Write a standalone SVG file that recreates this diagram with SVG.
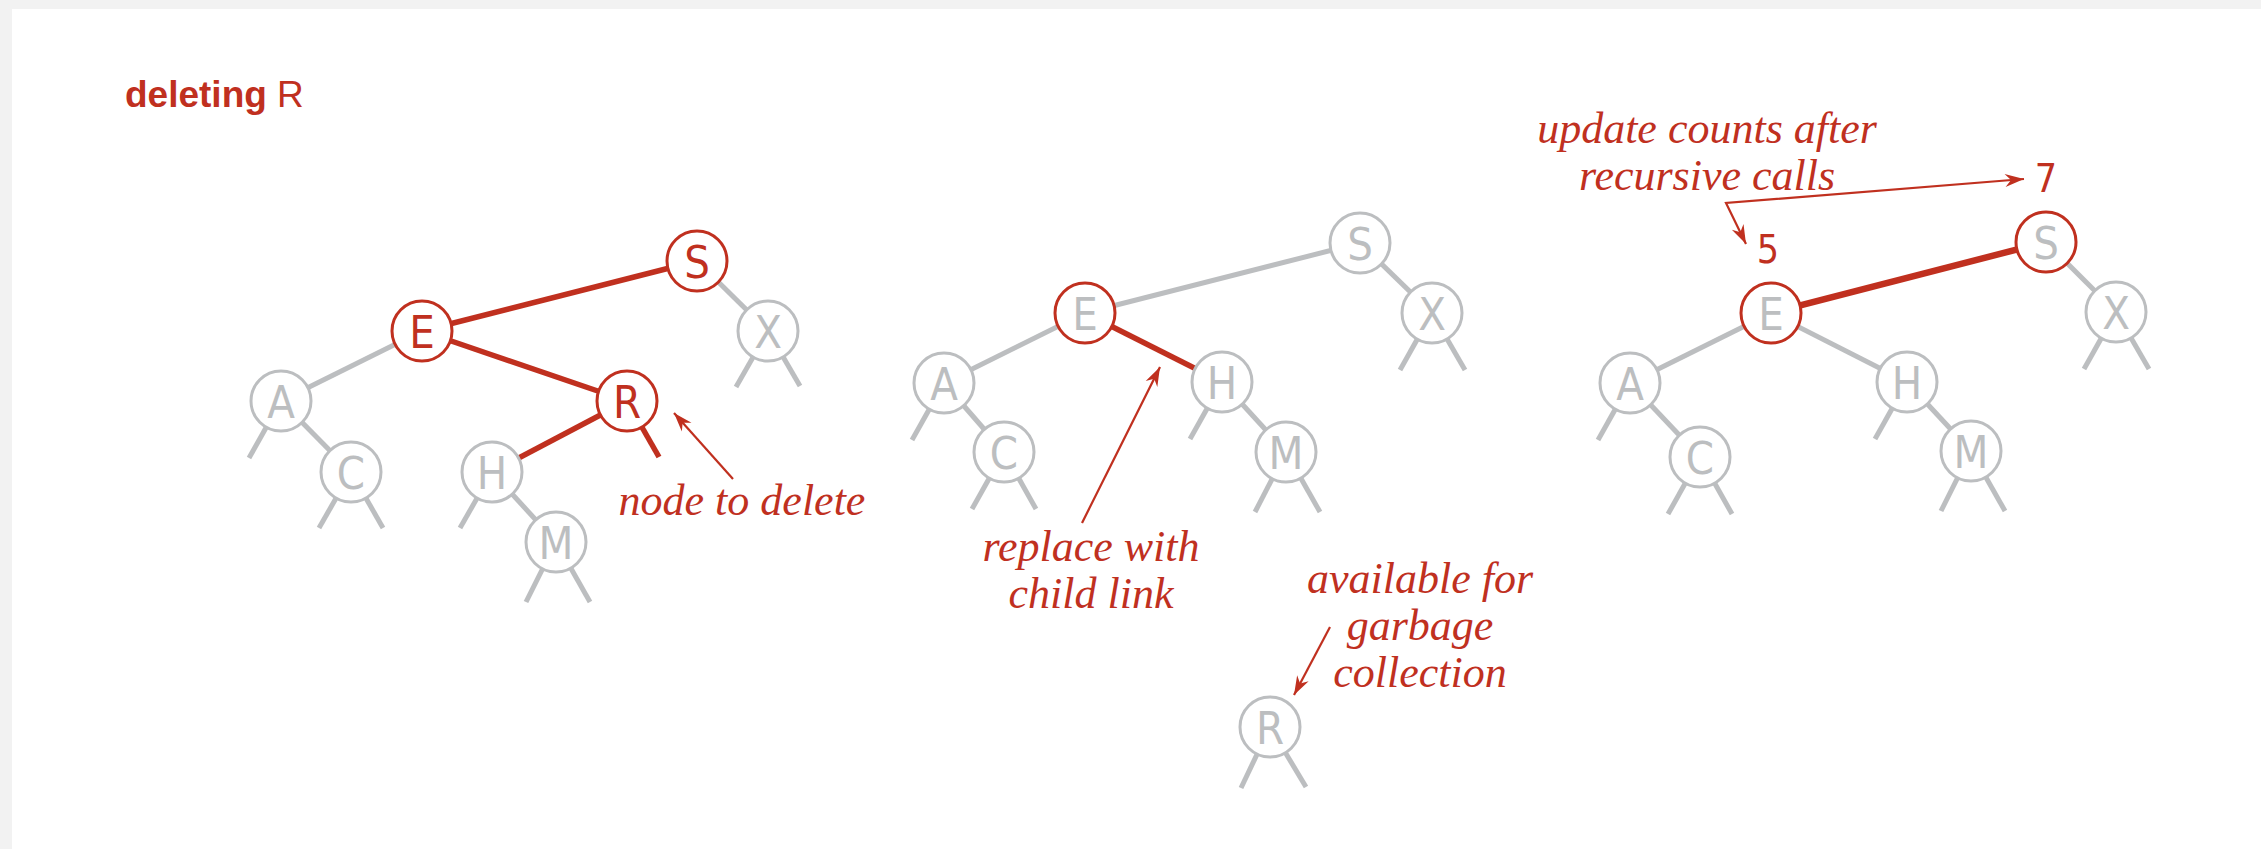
<svg xmlns="http://www.w3.org/2000/svg" width="2261" height="849" viewBox="0 0 2261 849">
<style>
.bg{fill:#f2f2f2}
.panel{fill:#ffffff}
.lk{stroke:#bcbec0;stroke-width:5;fill:none;stroke-linecap:butt}
.lr{stroke:#c0301f;stroke-width:5.5;fill:none}
.lr3{stroke:#c0301f;stroke-width:6.5;fill:none}
.cg{fill:#ffffff;stroke:#bcbec0;stroke-width:3}
.cr{fill:#ffffff;stroke:#c0301f;stroke-width:3}
.tg{fill:#bcbec0;font-family:"DejaVu Sans Condensed","Liberation Sans Narrow","Liberation Sans",sans-serif;font-size:45px;text-anchor:middle}
.tr{fill:#c0301f;font-family:"DejaVu Sans Condensed","Liberation Sans Narrow","Liberation Sans",sans-serif;font-size:45px;text-anchor:middle}
.num{fill:#c0301f;font-family:"DejaVu Sans Condensed","Liberation Sans Narrow","Liberation Sans",sans-serif;font-size:39px;text-anchor:middle}
.note{fill:#c0301f;font-family:"Liberation Serif",serif;font-style:italic;font-size:44px;text-anchor:middle}
.title{fill:#c0301f;font-family:"Liberation Sans",sans-serif;font-size:37px}
.arr{stroke:#c0301f;stroke-width:2.2;fill:none}
</style>
<defs>
<marker id="ah" markerUnits="userSpaceOnUse" viewBox="-20 -8 22 16" refX="0" refY="0" markerWidth="22" markerHeight="16" orient="auto-start-reverse">
<path d="M0,0 L-19,-6.5 L-13,0 L-19,6.5 Z" fill="#c0301f"/>
</marker>
</defs>
<rect class="bg" x="0" y="0" width="2261" height="849"/>
<rect class="panel" x="12" y="9" width="2249" height="840"/>
<text class="title" x="125" y="107"><tspan font-weight="bold">deleting</tspan> R</text>

<g id="connectors">
<!-- tree 1 -->
<line class="lr" x1="697" y1="261" x2="422" y2="331"/>
<line class="lk" x1="697" y1="261" x2="768" y2="331"/>
<line class="lk" x1="422" y1="331" x2="281" y2="401"/>
<line class="lr" x1="422" y1="331" x2="627" y2="401"/>
<line class="lk" x1="281" y1="401" x2="351" y2="472"/>
<line class="lr" x1="627" y1="401" x2="492" y2="472"/>
<line class="lk" x1="492" y1="472" x2="556" y2="542"/>
<line class="lk" x1="281" y1="401" x2="249" y2="458"/>
<line class="lk" x1="351" y1="472" x2="319" y2="528"/>
<line class="lk" x1="351" y1="472" x2="383" y2="528"/>
<line class="lk" x1="492" y1="472" x2="460" y2="528"/>
<line class="lk" x1="556" y1="542" x2="526" y2="602"/>
<line class="lk" x1="556" y1="542" x2="590" y2="602"/>
<line class="lr" x1="627" y1="401" x2="659" y2="457"/>
<line class="lk" x1="768" y1="331" x2="736" y2="387"/>
<line class="lk" x1="768" y1="331" x2="800" y2="386"/>
<!-- tree 2 -->
<line class="lk" x1="1360" y1="243" x2="1085" y2="313"/>
<line class="lk" x1="1360" y1="243" x2="1432" y2="313"/>
<line class="lk" x1="1085" y1="313" x2="944" y2="383"/>
<line class="lr" x1="1085" y1="313" x2="1222" y2="382"/>
<line class="lk" x1="944" y1="383" x2="1004" y2="452"/>
<line class="lk" x1="1222" y1="382" x2="1286" y2="452"/>
<line class="lk" x1="944" y1="383" x2="912" y2="440"/>
<line class="lk" x1="1004" y1="452" x2="972" y2="509"/>
<line class="lk" x1="1004" y1="452" x2="1036" y2="509"/>
<line class="lk" x1="1222" y1="382" x2="1190" y2="439"/>
<line class="lk" x1="1286" y1="452" x2="1255" y2="512"/>
<line class="lk" x1="1286" y1="452" x2="1320" y2="512"/>
<line class="lk" x1="1432" y1="313" x2="1400" y2="370"/>
<line class="lk" x1="1432" y1="313" x2="1465" y2="370"/>
<line class="lk" x1="1270" y1="727" x2="1241" y2="788"/>
<line class="lk" x1="1270" y1="727" x2="1306" y2="787"/>
<!-- tree 3 -->
<line class="lr3" x1="2046" y1="242" x2="1771" y2="313"/>
<line class="lk" x1="2046" y1="242" x2="2116" y2="312"/>
<line class="lk" x1="1771" y1="313" x2="1630" y2="383"/>
<line class="lk" x1="1771" y1="313" x2="1907" y2="382"/>
<line class="lk" x1="1630" y1="383" x2="1700" y2="457"/>
<line class="lk" x1="1907" y1="382" x2="1971" y2="451"/>
<line class="lk" x1="1630" y1="383" x2="1598" y2="440"/>
<line class="lk" x1="1700" y1="457" x2="1668" y2="514"/>
<line class="lk" x1="1700" y1="457" x2="1732" y2="514"/>
<line class="lk" x1="1907" y1="382" x2="1875" y2="439"/>
<line class="lk" x1="1971" y1="451" x2="1941" y2="511"/>
<line class="lk" x1="1971" y1="451" x2="2005" y2="511"/>
<line class="lk" x1="2116" y1="312" x2="2084" y2="369"/>
<line class="lk" x1="2116" y1="312" x2="2149" y2="369"/>
<!-- annotation arrows -->
<line class="arr" x1="733" y1="479" x2="674" y2="413" marker-end="url(#ah)"/>
<line class="arr" x1="1082" y1="523" x2="1160" y2="367" marker-end="url(#ah)"/>
<line class="arr" x1="1330" y1="627" x2="1294" y2="695" marker-end="url(#ah)"/>
<polyline class="arr" points="2024,179 1726,203 1746,244" marker-start="url(#ah)" marker-end="url(#ah)"/>
</g>

<!-- tree 1 nodes -->
<g id="t1-S"><circle class="cr" cx="697" cy="261" r="30"/><text class="tr" x="697" y="277.5">S</text></g>
<g id="t1-E"><circle class="cr" cx="422" cy="331" r="30"/><text class="tr" x="422" y="347.5">E</text></g>
<g id="t1-X"><circle class="cg" cx="768" cy="331" r="30"/><text class="tg" x="768" y="347.5">X</text></g>
<g id="t1-A"><circle class="cg" cx="281" cy="401" r="30"/><text class="tg" x="281" y="417.5">A</text></g>
<g id="t1-R"><circle class="cr" cx="627" cy="401" r="30"/><text class="tr" x="627" y="417.5">R</text></g>
<g id="t1-C"><circle class="cg" cx="351" cy="472" r="30"/><text class="tg" x="351" y="488.5">C</text></g>
<g id="t1-H"><circle class="cg" cx="492" cy="472" r="30"/><text class="tg" x="492" y="488.5">H</text></g>
<g id="t1-M"><circle class="cg" cx="556" cy="542" r="30"/><text class="tg" x="556" y="558.5">M</text></g>

<!-- tree 2 nodes -->
<g id="t2-S"><circle class="cg" cx="1360" cy="243" r="30"/><text class="tg" x="1360" y="259.5">S</text></g>
<g id="t2-E"><circle class="cr" cx="1085" cy="313" r="30"/><text class="tg" x="1085" y="329.5">E</text></g>
<g id="t2-X"><circle class="cg" cx="1432" cy="313" r="30"/><text class="tg" x="1432" y="329.5">X</text></g>
<g id="t2-A"><circle class="cg" cx="944" cy="383" r="30"/><text class="tg" x="944" y="399.5">A</text></g>
<g id="t2-H"><circle class="cg" cx="1222" cy="382" r="30"/><text class="tg" x="1222" y="398.5">H</text></g>
<g id="t2-C"><circle class="cg" cx="1004" cy="452" r="30"/><text class="tg" x="1004" y="468.5">C</text></g>
<g id="t2-M"><circle class="cg" cx="1286" cy="452" r="30"/><text class="tg" x="1286" y="468.5">M</text></g>
<g id="t2-R"><circle class="cg" cx="1270" cy="727" r="30"/><text class="tg" x="1270" y="743.5">R</text></g>

<!-- tree 3 nodes -->
<g id="t3-S"><circle class="cr" cx="2046" cy="242" r="30"/><text class="tg" x="2046" y="258.5">S</text></g>
<g id="t3-E"><circle class="cr" cx="1771" cy="313" r="30"/><text class="tg" x="1771" y="329.5">E</text></g>
<g id="t3-X"><circle class="cg" cx="2116" cy="312" r="30"/><text class="tg" x="2116" y="328.5">X</text></g>
<g id="t3-A"><circle class="cg" cx="1630" cy="383" r="30"/><text class="tg" x="1630" y="399.5">A</text></g>
<g id="t3-H"><circle class="cg" cx="1907" cy="382" r="30"/><text class="tg" x="1907" y="398.5">H</text></g>
<g id="t3-C"><circle class="cg" cx="1700" cy="457" r="30"/><text class="tg" x="1700" y="473.5">C</text></g>
<g id="t3-M"><circle class="cg" cx="1971" cy="451" r="30"/><text class="tg" x="1971" y="467.5">M</text></g>

<g id="labels">
<text class="num" x="1768" y="263">5</text>
<text class="num" x="2046" y="192">7</text>
<text class="note" x="742" y="515">node to delete</text>
<text class="note" x="1091" y="561">replace with</text>
<text class="note" x="1091" y="608">child link</text>
<text class="note" x="1420" y="593">available for</text>
<text class="note" x="1420" y="640">garbage</text>
<text class="note" x="1420" y="687">collection</text>
<text class="note" x="1707" y="143">update counts after</text>
<text class="note" x="1707" y="190">recursive calls</text>
</g>
</svg>
